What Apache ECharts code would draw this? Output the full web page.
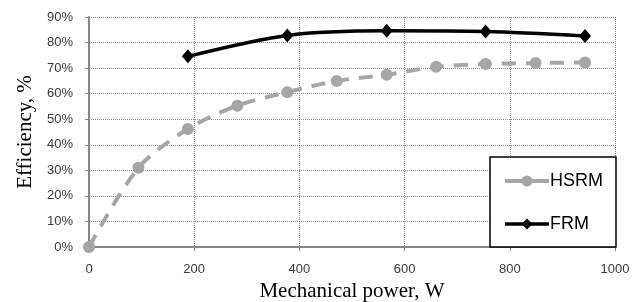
<!DOCTYPE html>
<html>
<head>
<meta charset="utf-8">
<script src="https://cdn.jsdelivr.net/npm/echarts@6/dist/echarts.min.js"></script>
<style>
  html, body { margin: 0; padding: 0; background: #fff; }
  #grafico { width: 641px; height: 302px; }
</style>
</head>
<body>
<div id="grafico"></div>
<script>
// Datos
var potenciaHSRM = [0, 94, 188, 282, 377, 471, 566, 660, 754, 849, 943];
var eficienciaHSRM = [0, 31, 46.2, 55.3, 60.6, 65, 67.4, 70.5, 71.6, 72, 72.2];
var potenciaFRM = [188, 377, 566, 754, 943];
var eficienciaFRM = [74.6, 82.8, 84.6, 84.3, 82.6];
var nombresSeries = ["HSRM", "FRM"];

function pares(xs, ys) {
  var out = [];
  for (var i = 0; i < xs.length; i++) out.push([xs[i], ys[i]]);
  return out;
}

var gridDotted = { show: true, lineStyle: { color: "#8c8c8c", type: [1, 1], width: 1 } };

var option = {
  animation: false,
  grid: { left: 89, right: 26, top: 17, bottom: 55, containLabel: false, outerBoundsMode: "none" },
  legend: {
    orient: "vertical",
    left: 490,
    top: 157,
    padding: [15, 13, 14, 13],
    itemGap: 25,
    itemWidth: 44,
    itemHeight: 14,
    backgroundColor: "#fff",
    borderColor: "#000",
    borderWidth: 1.5,
    textStyle: {
      fontFamily: "Liberation Sans",
      fontSize: 18,
      lineHeight: 18,
      color: "#000",
      padding: [0, 0, 0, -4],
    },
    data: [
      { name: nombresSeries[0], lineStyle: { type: "solid", width: 4 } },
      { name: nombresSeries[1], lineStyle: { width: 3.5 } },
    ],
  },
  xAxis: {
    type: "value",
    min: 0,
    max: 1000,
    interval: 200,
    name: "Mechanical power, W",
    nameLocation: "middle",
    nameGap: 34,
    nameTextStyle: { fontFamily: "Liberation Serif", fontSize: 21, color: "#000" },
    axisLine: { show: true, lineStyle: { color: "#868686", width: 2 } },
    axisTick: { show: true, length: 4, lineStyle: { color: "#868686", width: 1 } },
    axisLabel: {
      fontFamily: "Liberation Sans", fontSize: 13, color: "#3a3a3a", margin: 16,
      formatter: function (v) { return String(v); },
    },
    splitLine: gridDotted,
  },
  yAxis: {
    type: "value",
    min: 0,
    max: 90,
    interval: 10,
    name: "Efficiency, %",
    nameLocation: "middle",
    nameGap: 53,
    nameTextStyle: { fontFamily: "Liberation Serif", fontSize: 21, color: "#000" },
    axisLine: { show: true, lineStyle: { color: "#868686", width: 2 } },
    axisTick: { show: true, length: 4, lineStyle: { color: "#868686", width: 1 } },
    axisLabel: { fontFamily: "Liberation Sans", fontSize: 13, color: "#3a3a3a", margin: 16, formatter: "{value}%" },
    splitLine: gridDotted,
  },
  series: [
    {
      name: nombresSeries[0],
      type: "line",
      smooth: 0.3,
      data: pares(potenciaHSRM, eficienciaHSRM),
      symbol: "circle",
      symbolSize: 12,
      itemStyle: { color: "#a6a6a6" },
      lineStyle: { color: "#a6a6a6", width: 4, type: [14, 10] },
      z: 2,
    },
    {
      name: nombresSeries[1],
      type: "line",
      smooth: 0.3,
      data: pares(potenciaFRM, eficienciaFRM),
      symbol: "diamond",
      symbolSize: [12, 14],
      itemStyle: { color: "#000" },
      lineStyle: { color: "#000", width: 3.5 },
      z: 3,
    },
  ],
};

var chart = echarts.init(document.getElementById("grafico"));
chart.setOption(option);
</script>
</body>
</html>
